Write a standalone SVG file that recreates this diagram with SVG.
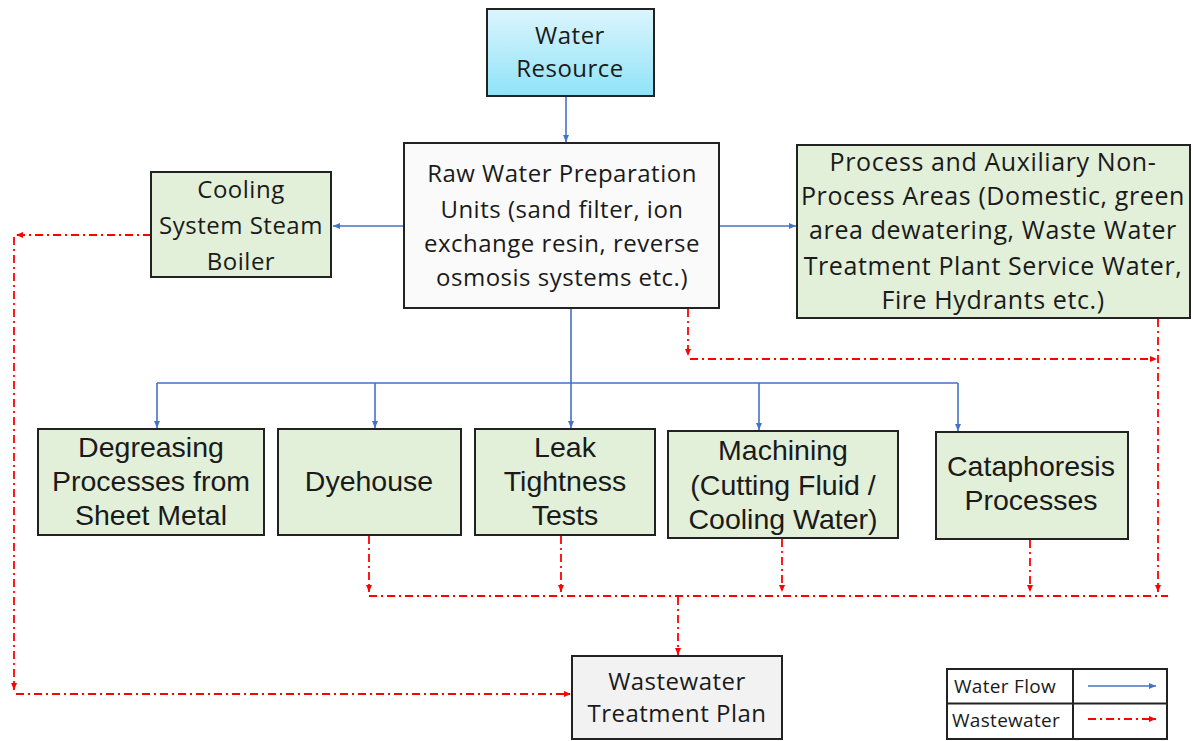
<svg xmlns="http://www.w3.org/2000/svg" width="1193" height="741" viewBox="0 0 1193 741">
<style>
.box{stroke:#222;stroke-width:2}
.g{fill:#e2efd9}
.c{font-family:"Open Sans","Noto Sans",sans-serif;font-size:24px;letter-spacing:0.5px;fill:#1a1a1a;text-anchor:middle}
.p{font-size:25px;letter-spacing:0.6px}
.a{font-family:"Liberation Sans",Arial,sans-serif;font-size:28.5px;fill:#1a1a1a;text-anchor:middle}
.l{font-family:"Open Sans","Noto Sans",sans-serif;font-size:19px;letter-spacing:0.3px;fill:#1a1a1a}
.blue{stroke:#4472c4;stroke-width:1.6;fill:none}
.red{stroke:#ff0000;stroke-width:1.8;fill:none;stroke-dasharray:8 4 2 4}
</style>
<defs>
<linearGradient id="wg" x1="0" y1="0" x2="0" y2="1">
<stop offset="0" stop-color="#dcf5fd"/>
<stop offset="1" stop-color="#8fe3f8"/>
</linearGradient>
<marker id="ab" markerUnits="userSpaceOnUse" markerWidth="10" markerHeight="10" refX="8" refY="5" orient="auto">
<path d="M1,2 L8,5 L1,8 Z" fill="#4472c4"/>
</marker>
<marker id="ar" markerUnits="userSpaceOnUse" markerWidth="10" markerHeight="10" refX="8" refY="5" orient="auto">
<path d="M1,2 L8,5 L1,8 Z" fill="#ff0000"/>
</marker>
</defs>
<rect width="1193" height="741" fill="#fff"/>

<g id="connectors">
<path class="blue" d="M566,96 V142" marker-end="url(#ab)"/>
<path class="blue" d="M404,226 H333" marker-end="url(#ab)"/>
<path class="blue" d="M719,226 H796" marker-end="url(#ab)"/>
<path class="blue" d="M571,308 V383 M157,383 H958"/>
<path class="blue" d="M157,383 V428" marker-end="url(#ab)"/>
<path class="blue" d="M375,383 V428" marker-end="url(#ab)"/>
<path class="blue" d="M571,383 V428" marker-end="url(#ab)"/>
<path class="blue" d="M759,383 V430" marker-end="url(#ab)"/>
<path class="blue" d="M958,383 V431" marker-end="url(#ab)"/>

<path class="red" d="M688,309 V356" marker-end="url(#ar)"/>
<path class="red" d="M690,359 H1157" marker-end="url(#ar)"/>
<path class="red" d="M1158,319 V592" marker-end="url(#ar)"/>
<path class="red" d="M151,235 H16" marker-end="url(#ar)"/>
<path class="red" d="M14,237 V690" marker-end="url(#ar)"/>
<path class="red" d="M16,694 H571" marker-end="url(#ar)"/>
<path class="red" d="M369,536 V592" marker-end="url(#ar)"/>
<path class="red" d="M561,536 V592" marker-end="url(#ar)"/>
<path class="red" d="M782,539 V592" marker-end="url(#ar)"/>
<path class="red" d="M1030,540 V592" marker-end="url(#ar)"/>
<path class="red" d="M369,596 H1168"/>
<path class="red" d="M678,597 V655" marker-end="url(#ar)"/>
</g>

<g id="water-resource">
<rect class="box" x="487" y="9" width="167" height="87" fill="url(#wg)"/>
<text class="c" x="570" y="44">Water</text>
<text class="c" x="570" y="77">Resource</text>
</g>

<g id="raw-water">
<rect class="box" x="404" y="143" width="315" height="165" fill="#fafafa"/>
<text class="c" x="562" y="182">Raw Water Preparation</text>
<text class="c" x="562" y="218">Units (sand filter, ion</text>
<text class="c" x="562" y="252">exchange resin, reverse</text>
<text class="c" x="562" y="286">osmosis systems etc.)</text>
</g>

<g id="cooling">
<rect class="box g" x="151" y="172" width="180" height="105"/>
<text class="c" x="241" y="198">Cooling</text>
<text class="c" x="241" y="234">System Steam</text>
<text class="c" x="241" y="270">Boiler</text>
</g>

<g id="process-areas">
<rect class="box g" x="797" y="145" width="393" height="173"/>
<text class="c p" x="993" y="171">Process and Auxiliary Non-</text>
<text class="c p" x="993" y="205">Process Areas (Domestic, green</text>
<text class="c p" x="993" y="239">area dewatering, Waste Water</text>
<text class="c p" x="993" y="275">Treatment Plant Service Water,</text>
<text class="c p" x="993" y="309">Fire Hydrants etc.)</text>
</g>

<g id="degreasing">
<rect class="box g" x="38" y="429" width="226" height="106"/>
<text class="a" x="151" y="457">Degreasing</text>
<text class="a" x="151" y="491">Processes from</text>
<text class="a" x="151" y="525">Sheet Metal</text>
</g>

<g id="dyehouse">
<rect class="box g" x="278" y="429" width="183" height="106"/>
<text class="a" x="369" y="491">Dyehouse</text>
</g>

<g id="leak">
<rect class="box g" x="475" y="429" width="180" height="106"/>
<text class="a" x="565" y="457">Leak</text>
<text class="a" x="565" y="491">Tightness</text>
<text class="a" x="565" y="525">Tests</text>
</g>

<g id="machining">
<rect class="box g" x="668" y="431" width="230" height="107"/>
<text class="a" x="783" y="460">Machining</text>
<text class="a" x="783" y="495">(Cutting Fluid /</text>
<text class="a" x="783" y="529">Cooling Water)</text>
</g>

<g id="cataphoresis">
<rect class="box g" x="936" y="432" width="192" height="107"/>
<text class="a" x="1031" y="476">Cataphoresis</text>
<text class="a" x="1031" y="510">Processes</text>
</g>

<g id="wastewater-plant">
<rect class="box" x="572" y="656" width="210" height="83" fill="#f2f2f2"/>
<text class="c" x="677" y="690">Wastewater</text>
<text class="c" x="677" y="722">Treatment Plan</text>
</g>

<g id="legend">
<rect x="947" y="669" width="220" height="70" fill="#fff" stroke="#222" stroke-width="2"/>
<path d="M947,703.5 H1167 M1073,669 V739" stroke="#222" stroke-width="2"/>
<text class="l" x="954" y="693">Water Flow</text>
<text class="l" x="952" y="727">Wastewater</text>
<path class="blue" d="M1088,686 H1156" marker-end="url(#ab)"/>
<path class="red" d="M1088,719 H1156" marker-end="url(#ar)"/>
</g>
</svg>
